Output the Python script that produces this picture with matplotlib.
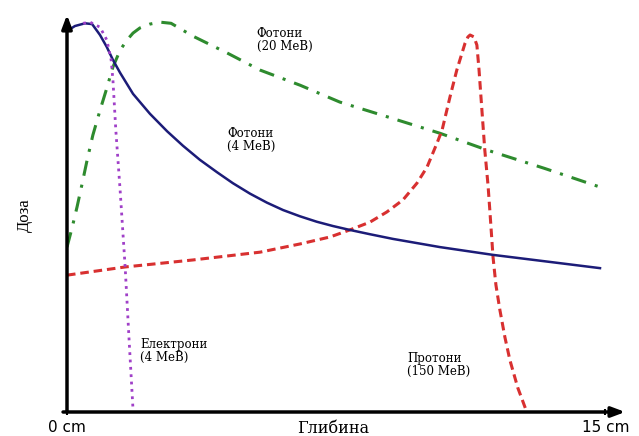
import matplotlib
matplotlib.use("Agg")
import matplotlib.pyplot as plt

# depth (cm) / relative dose
photon4_x = [0, 0.22, 0.50, 0.70, 0.92, 1.11, 1.28, 1.48, 1.84, 2.31, 2.79, 3.23, 3.70, 4.18, 4.62, 5.10,
             5.57, 6.02, 6.49, 6.96, 7.41, 7.88, 8.44, 9.08, 10.39, 11.87, 13.45, 14.85]
photon4_y = [97.7, 99.0, 99.7, 99.5, 96.7, 93.6, 90.3, 87.0, 81.6, 76.5, 72.0, 68.3, 64.7, 61.5, 58.7, 56.0,
             53.7, 51.8, 50.2, 48.8, 47.7, 46.7, 45.6, 44.4, 42.3, 40.3, 38.5, 36.9]

photon20_x = [0, 0.14, 0.28, 0.42, 0.56, 0.72, 0.92, 1.11, 1.28, 1.48, 1.67, 1.84, 2.03, 2.31, 2.59, 2.90,
              3.51, 4.46, 5.38, 6.5, 7.60, 9.0, 10.39, 11.70, 13.3, 14.85]
photon20_y = [42.3, 47.2, 52.6, 58.5, 64.6, 71.0, 77.4, 83.1, 88.5, 92.8, 95.4, 97.2, 98.5, 99.5, 100.0, 99.7,
              96.4, 92.1, 87.7, 83.8, 79.5, 75.5, 71.5, 67.2, 62.5, 57.7]

proton_x = [0, 1.62, 3.51, 5.38, 6.49, 7.33, 7.88, 8.44, 8.91, 9.36, 9.75, 10.03, 10.31, 10.45, 10.67, 10.86,
            11.09, 11.17, 11.23, 11.34, 11.42, 11.48, 11.56, 11.64, 11.73, 11.78, 11.87, 11.95, 12.06,
            12.20, 12.34, 12.56, 12.81]
proton_y = [35.1, 37.2, 39.0, 41.0, 43.1, 44.9, 46.7, 48.7, 51.3, 54.4, 58.7, 62.8, 69.0, 72.3, 80.8, 87.7,
            94.6, 96.2, 96.7, 96.2, 94.1, 87.7, 77.4, 67.2, 58.2, 51.8, 39.7, 32.6, 26.2,
            19.2, 13.3, 6.2, 0]

electron_x = [0.45, 0.64, 0.92, 1.11, 1.23, 1.28, 1.36, 1.48, 1.62, 1.73, 1.84]
electron_y = [99.7, 100, 98.7, 95.4, 90.3, 85.1, 72.3, 56.9, 37.2, 18.5, 0.5]

fig = plt.figure(figsize=(6.39, 4.36), dpi=100)
ax = fig.add_axes([67/639, 24/436, 561/639, 400/436])
ax.set_xlim(0, 15.63)
ax.set_ylim(0, 102.6)

ax.plot(photon20_x, photon20_y, color="#2e8b2e", lw=2.2, dashes=(5, 3, 1, 3))
ax.plot(proton_x, proton_y, color="#d83030", lw=2.2, dashes=(2.8, 1.6))
ax.plot(photon4_x, photon4_y, color="#1c1c78", lw=1.8)
ax.plot(electron_x, electron_y, color="#a040c8", lw=2, ls=":")

for s in ax.spines.values():
    s.set_visible(False)
ax.set_yticks([])
ax.set_xticks([0, 15])
ax.set_xticklabels(["0 cm", "15 cm"], fontsize=11, family="DejaVu Sans")
ax.tick_params(axis="x", length=5, width=1.5, direction="inout", pad=3)

# axes arrows
ax.annotate("", xy=(0, 1.0), xytext=(0, -0.005), xycoords="axes fraction",
            arrowprops=dict(arrowstyle="-|>,head_width=0.3,head_length=0.8", color="black", lw=2.5))
ax.annotate("", xy=(1.0, 0), xytext=(-0.012, 0), xycoords="axes fraction",
            arrowprops=dict(arrowstyle="-|>,head_width=0.3,head_length=0.8", color="black", lw=2.5))

tkw = dict(family="DejaVu Serif", fontsize=8.5, ha="left", va="center", linespacing=1.0)
ax.text(5.29, 95.4, "Фотони\n(20 МеВ)", **tkw)
ax.text(4.46, 69.7, "Фотони\n(4 МеВ)", **tkw)
ax.text(2.03, 15.6, "Електрони\n(4 МеВ)", **tkw)
ax.text(9.47, 12.1, "Протони\n(150 МеВ)", **tkw)

fig.text(333/639, 1 - 428/436, "Глибина", family="DejaVu Serif", fontsize=11.5, ha="center", va="center")
fig.text(25/639, 1 - 215/436, "Доза", family="Liberation Serif", fontsize=12, ha="center", va="center", rotation=90)

fig.savefig("out.png", dpi=100)
